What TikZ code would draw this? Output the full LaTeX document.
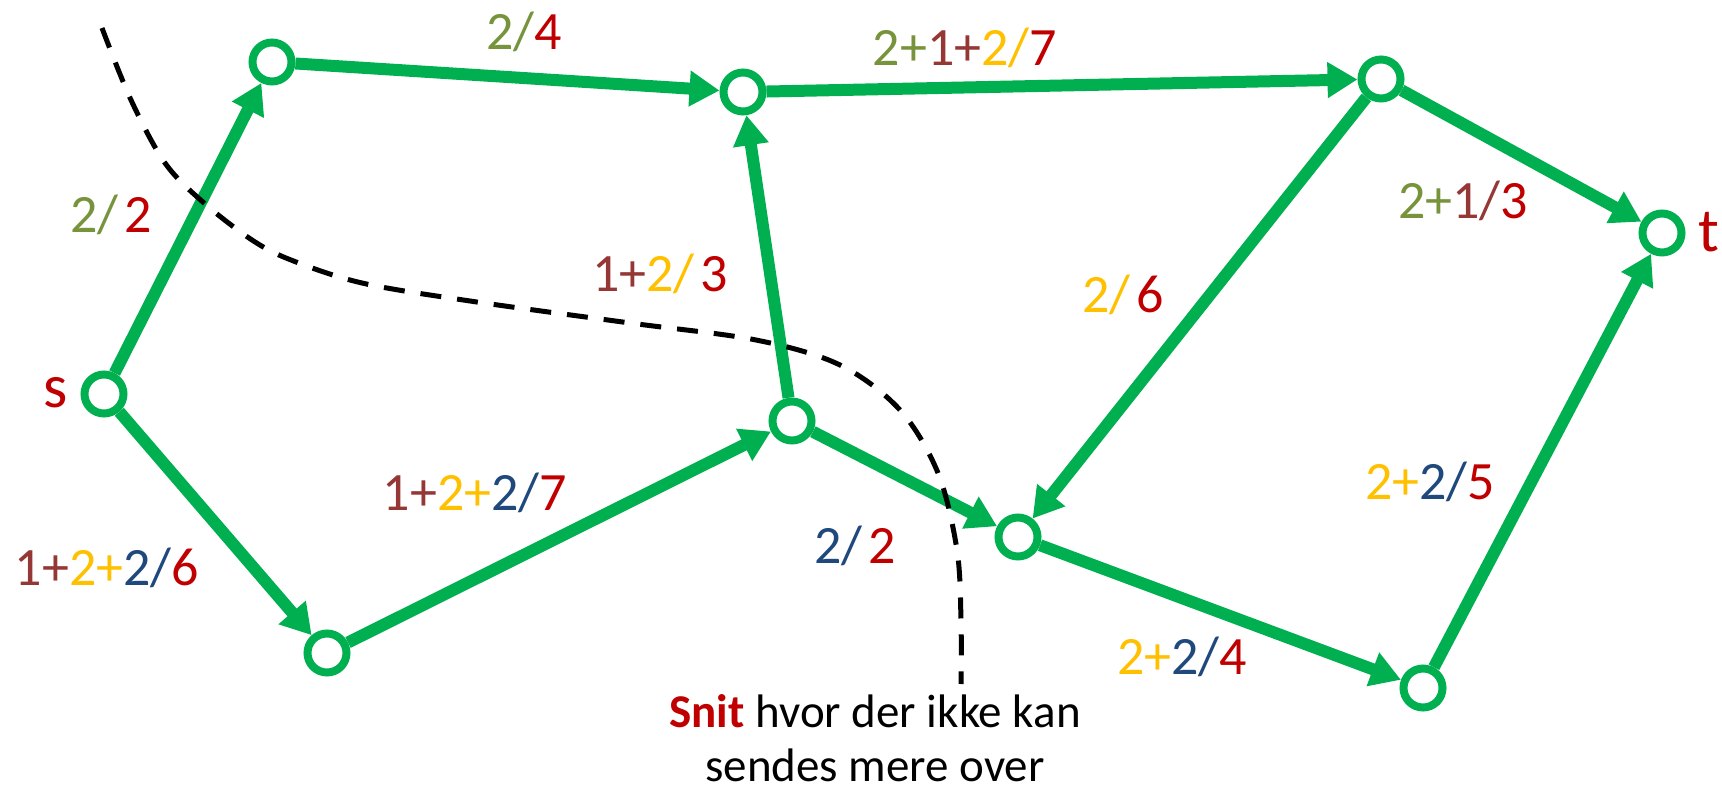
\documentclass[tikz,border=0pt]{standalone}
\usepackage{fontspec}
\setmainfont{Carlito}
\usetikzlibrary{arrows.meta}
\definecolor{gr}{HTML}{00B050}
\definecolor{rd}{HTML}{C00000}
\definecolor{ol}{HTML}{77933C}
\definecolor{br}{HTML}{953735}
\definecolor{yl}{HTML}{FFC000}
\definecolor{bl}{HTML}{1F497D}
\newcommand{\Ol}[1]{{\color{ol}#1}}
\newcommand{\Rd}[1]{{\color{rd}#1}}
\newcommand{\Br}[1]{{\color{br}#1}}
\newcommand{\Yl}[1]{{\color{yl}#1}}
\newcommand{\Bl}[1]{{\color{bl}#1}}
\newcommand{\gap}{\hspace{6pt}}
\begin{document}
\begin{tikzpicture}[x=1pt,y=-1pt,
  vtx/.style={circle,draw=gr,line width=8pt,fill=white,minimum size=39pt,inner sep=0pt},
  flow/.style={draw=gr,line width=12pt,-{Triangle[length=30pt,width=34pt]}},
  lbl/.style={anchor=base,inner sep=0pt,font=\fontsize{54}{60}\selectfont},
  term/.style={anchor=base,inner sep=0pt,text=rd,font=\fontsize{62}{70}\selectfont},
  captxt/.style={anchor=base,inner sep=0pt,font=\fontsize{47}{56}\selectfont},
  cut/.style={draw=black,line width=5pt,dash pattern=on 21pt off 16pt}]
\useasboundingbox (0,0) rectangle (1722,794);

% vertices
\node[vtx] (s) at (104,394) {};
\node[vtx] (a) at (272,62) {};
\node[vtx] (b) at (743,92) {};
\node[vtx] (c) at (1381,79) {};
\node[vtx] (t) at (1662,233) {};
\node[vtx] (d) at (792,421) {};
\node[vtx] (e) at (1018,537) {};
\node[vtx] (f) at (327,653) {};
\node[vtx] (g) at (1423,688) {};

% edges
\draw[flow] (s) -- (a);
\draw[flow] (a) -- (b);
\draw[flow] (b) -- (c);
\draw[flow] (c) -- (t);
\draw[flow] (s) -- (f);
\draw[flow] (f) -- (d);
\draw[flow] (d) -- (b);
\draw[flow] (d) -- (e);
\draw[flow] (c) -- (e);
\draw[flow] (e) -- (g);
\draw[flow] (g) -- (t);

% terminal labels
\node[term] (ls) at (56,407) {s};
\node[term] (lt) at (1709,252) {t};

% edge labels
\node[lbl] (lsa) at (111,233) {\Ol{2/}\gap\Rd{2}};
\node[lbl] (lab) at (524,50) {\Ol{2/}\Rd{4}};
\node[lbl] (lbc) at (965,66) {\Ol{2+}\Br{1+}\Yl{2/}\Rd{7}};
\node[lbl] (lct) at (1463,219) {\Ol{2+}\Br{1/}\Rd{3}};
\node[lbl] (ldb) at (660,292) {\Br{1+}\Yl{2/}\gap\Rd{3}};
\node[lbl] (lce) at (1123,313) {\Yl{2/}\gap\Rd{6}};
\node[lbl] (lfd) at (475,510) {\Br{1+}\Yl{2+}\Bl{2/}\Rd{7}};
\node[lbl] (lsf) at (107,585) {\Br{1+}\Yl{2+}\Bl{2/}\Rd{6}};
\node[lbl] (lde) at (855,563) {\Bl{2/}\gap\Rd{2}};
\node[lbl] (lgt) at (1430,499) {\Yl{2+}\Bl{2/}\Rd{5}};
\node[lbl] (leg) at (1182,674) {\Yl{2+}\Bl{2/}\Rd{4}};

% cut
\draw[cut] plot[smooth,tension=0.55] coordinates {(102,28) (131,100) (165,163) (204,203) (252,240) (291,260) (362,283) (470,301) (630,323) (756,340) (840,365) (900,410) (938,473) (957,550) (961,620) (961,684)};

% caption
\node[captxt] (cap1) at (875,727) {{\color{rd}\bfseries Snit} hvor der ikke kan};
\node[captxt] (cap2) at (875,781) {sendes mere over};
\end{tikzpicture}
\end{document}
